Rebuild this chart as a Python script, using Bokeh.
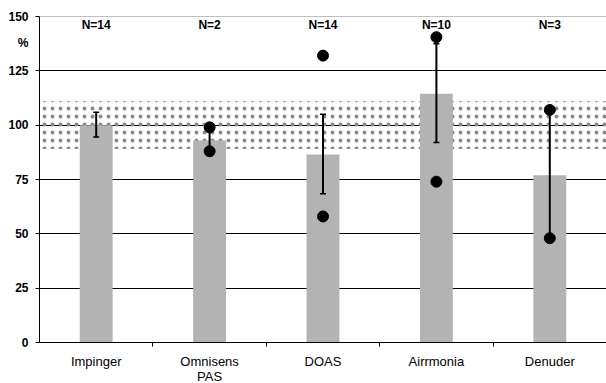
from bokeh.plotting import figure
from bokeh.models import Range1d, FixedTicker, Whisker, ColumnDataSource, Span, TeeHead
from bokeh.core.properties import value
from bokeh.embed import file_html
from bokeh.resources import INLINE

categories = ["Impinger", "Omnisens\nPAS", "DOAS", "Airrmonia", "Denuder"]
n_labels = ["N=14", "N=2", "N=14", "N=10", "N=3"]
means = [100, 93, 86.5, 114.5, 77]
err_low = [94.5, 88, 68.5, 92, 48]
err_high = [106, 99, 105, 137.5, 107]
min_vals = [float("nan"), 88, 58, 74, 48]
max_vals = [float("nan"), 99, 132, 140.5, 107]
band_low, band_high = 89, 111
y_ticks = [0, 25, 50, 75, 100, 125, 150]
unit_label = "%"
unit_label_y = 138
n_label_y = 146

FONT = "Liberation Sans"
xs = [i + 0.5 for i in range(len(categories))]

src = ColumnDataSource(dict(x=xs, mean=means, lo=err_low, hi=err_high,
                            mn=min_vals, mx=max_vals, n=n_labels,
                            ny=[n_label_y] * len(xs)))

p = figure(frame_width=567, frame_height=326, output_backend="svg", toolbar_location=None,
           x_range=Range1d(0, len(categories)), y_range=Range1d(0, 150),
           min_border_left=39, min_border_right=0, min_border_top=16, min_border_bottom=41)
p.outline_line_color = None
p.background_fill_color = "white"

# reference band
p.quad(left=[0], right=[len(categories)], bottom=[band_low], top=[band_high],
       fill_color=None, line_color=None, hatch_pattern="dot", hatch_color="#8a8a8a",
       hatch_scale=8, hatch_weight=1)

# bars
p.vbar(x="x", top="mean", bottom=0, width=0.29, source=src, fill_color="#b3b3b3", line_color=None)

# grid lines
p.xgrid.visible = False
p.ygrid.ticker = FixedTicker(ticks=[25, 50, 75, 100, 125])
p.ygrid.grid_line_color = "black"
p.ygrid.grid_line_width = 1
p.add_layout(Span(location=150, dimension="width", line_color="#808080", line_width=1))

# whiskers
p.add_layout(Whisker(base="x", lower="lo", upper="hi", source=src, line_width=2, line_color="black",
                     level="overlay",
                     upper_head=TeeHead(size=6, line_width=1.5, line_color="black"),
                     lower_head=TeeHead(size=6, line_width=1.5, line_color="black")))

# min / max dots
p.scatter(x="x", y="mn", source=src, size=11, color="black", level="overlay")
p.scatter(x="x", y="mx", source=src, size=11, color="black", level="overlay")

# N labels
p.text(x="x", y="ny", text="n", source=src, text_font=value(FONT), text_font_size="12px",
       text_font_style="bold", text_align="center", text_baseline="middle", text_color="black")

# y axis: numeric ticks drawn as minor ticks, "%" as an extra unmarked label
p.yaxis.ticker = FixedTicker(ticks=y_ticks + [unit_label_y], minor_ticks=y_ticks)
p.yaxis.major_label_overrides = {unit_label_y: unit_label}
p.yaxis.axis_line_color = "black"
p.yaxis.axis_line_width = 1
p.yaxis.major_tick_in = 0
p.yaxis.major_tick_out = 0
p.yaxis.major_tick_line_color = None
p.yaxis.minor_tick_in = 0
p.yaxis.minor_tick_out = 4
p.yaxis.minor_tick_line_color = "black"
p.yaxis.major_label_text_font = FONT
p.yaxis.major_label_text_font_size = "12px"
p.yaxis.major_label_text_font_style = "bold"
p.yaxis.major_label_text_color = "black"
p.yaxis.major_label_standoff = 7

p.xaxis.ticker = FixedTicker(ticks=xs, minor_ticks=[1, 2, 3, 4])
p.xaxis.major_label_overrides = {x: c for x, c in zip(xs, categories)}
p.xaxis.major_tick_line_color = None
p.xaxis.major_tick_out = 0
p.xaxis.major_tick_in = 0
p.xaxis.minor_tick_in = 0
p.xaxis.minor_tick_out = 4
p.xaxis.minor_tick_line_color = "black"
p.xaxis.axis_line_color = "black"
p.xaxis.major_label_text_font = FONT
p.xaxis.major_label_text_font_size = "13px"
p.xaxis.major_label_text_line_height = 1.05
p.xaxis.major_label_text_color = "black"
p.xaxis.major_label_standoff = 7

open("out.html", "w").write(file_html(p, INLINE))
